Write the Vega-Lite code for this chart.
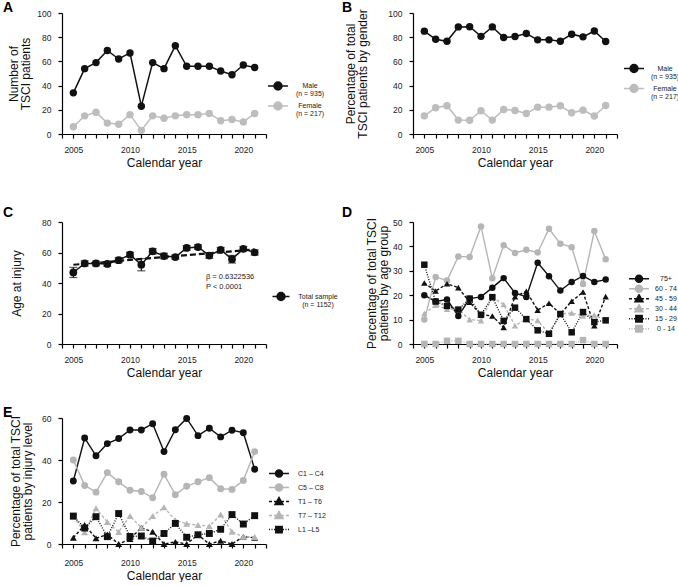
{
 "$schema": "https://vega.github.io/schema/vega-lite/v6.json",
 "padding": {"left": 3, "top": 0, "right": 0, "bottom": 0},
 "background": "white",
 "config": {
  "font": "Liberation Sans",
  "view": {"stroke": null},
  "axis": {"grid": false, "domainColor": "#000", "domainWidth": 1.2, "tickColor": "#000", "tickWidth": 1.2, "tickSize": 4, "labelFontSize": 8.5, "labelColor": "#222", "titleFontSize": 12, "titleFontWeight": "normal", "titleColor": "#111", "titleLineHeight": 12},
  "axisY": {"titlePadding": 4, "labelPadding": 7},
  "axisX": {"labelPadding": 7, "titlePadding": 4},
  "legend": {"labelFontSize": 7, "labelColor": "#1a1a1a", "labelFont": "Liberation Sans"},
  "title": {"fontSize": 14, "fontWeight": "bold", "color": "#000", "anchor": "start", "frame": "group", "font": "Liberation Sans"}
 },
 "datasets": {
  "sexn": [
   {"year": 2005, "Male": 34, "Female": 6},
   {"year": 2006, "Male": 54, "Female": 15},
   {"year": 2007, "Male": 59, "Female": 18},
   {"year": 2008, "Male": 69, "Female": 9},
   {"year": 2009, "Male": 62, "Female": 8},
   {"year": 2010, "Male": 67, "Female": 16},
   {"year": 2011, "Male": 23, "Female": 3},
   {"year": 2012, "Male": 59, "Female": 15},
   {"year": 2013, "Male": 54, "Female": 13},
   {"year": 2014, "Male": 73, "Female": 15},
   {"year": 2015, "Male": 56, "Female": 16},
   {"year": 2016, "Male": 56, "Female": 16},
   {"year": 2017, "Male": 56, "Female": 17},
   {"year": 2018, "Male": 52, "Female": 11},
   {"year": 2019, "Male": 49, "Female": 12},
   {"year": 2020, "Male": 57, "Female": 10},
   {"year": 2021, "Male": 55, "Female": 17}
  ],
  "sexpct": [
   {"year": 2005, "Male": 85.0, "Female": 15.0},
   {"year": 2006, "Male": 78.3, "Female": 21.7},
   {"year": 2007, "Male": 76.6, "Female": 23.4},
   {"year": 2008, "Male": 88.5, "Female": 11.5},
   {"year": 2009, "Male": 88.6, "Female": 11.4},
   {"year": 2010, "Male": 80.7, "Female": 19.3},
   {"year": 2011, "Male": 88.5, "Female": 11.5},
   {"year": 2012, "Male": 79.7, "Female": 20.3},
   {"year": 2013, "Male": 80.6, "Female": 19.4},
   {"year": 2014, "Male": 83.0, "Female": 17.0},
   {"year": 2015, "Male": 77.8, "Female": 22.2},
   {"year": 2016, "Male": 77.8, "Female": 22.2},
   {"year": 2017, "Male": 76.7, "Female": 23.3},
   {"year": 2018, "Male": 82.5, "Female": 17.5},
   {"year": 2019, "Male": 80.3, "Female": 19.7},
   {"year": 2020, "Male": 85.1, "Female": 14.9},
   {"year": 2021, "Male": 76.4, "Female": 23.6}
  ],
  "age": [
   {"year": 2005, "mean": 46.9, "lo": 43.6, "hi": 50.2},
   {"year": 2006, "mean": 52.8, "lo": 51.1, "hi": 54.5},
   {"year": 2007, "mean": 52.8, "lo": 51.3, "hi": 54.3},
   {"year": 2008, "mean": 52.5, "lo": 51.0, "hi": 54.0},
   {"year": 2009, "mean": 55.0, "lo": 53.3, "hi": 56.7},
   {"year": 2010, "mean": 58.6, "lo": 57.1, "hi": 60.1},
   {"year": 2011, "mean": 52.0, "lo": 48.0, "hi": 56.0},
   {"year": 2012, "mean": 60.8, "lo": 59.0, "hi": 62.6},
   {"year": 2013, "mean": 57.7, "lo": 55.9, "hi": 59.5},
   {"year": 2014, "mean": 57.0, "lo": 55.7, "hi": 58.3},
   {"year": 2015, "mean": 63.0, "lo": 61.5, "hi": 64.5},
   {"year": 2016, "mean": 63.6, "lo": 62.1, "hi": 65.1},
   {"year": 2017, "mean": 58.0, "lo": 56.2, "hi": 59.8},
   {"year": 2018, "mean": 61.8, "lo": 60.3, "hi": 63.3},
   {"year": 2019, "mean": 55.6, "lo": 53.1, "hi": 58.1},
   {"year": 2020, "mean": 62.4, "lo": 60.9, "hi": 63.9},
   {"year": 2021, "mean": 60.0, "lo": 58.3, "hi": 61.7}
  ],
  "fit": [
   {"year": 2005, "fit": 51.95},
   {"year": 2021, "fit": 62.07}
  ],
  "agegrp": [
   {"year": 2005, "75+": 20.0, "60 - 74": 10.0, "45 - 59": 25.0, "30 - 44": 12.5, "15 - 29": 32.5, "0 - 14": 0},
   {"year": 2006, "75+": 17.4, "60 - 74": 27.5, "45 - 59": 21.7, "30 - 44": 15.9, "15 - 29": 17.4, "0 - 14": 0},
   {"year": 2007, "75+": 18.2, "60 - 74": 26.0, "45 - 59": 24.7, "30 - 44": 14.3, "15 - 29": 15.6, "0 - 14": 1.3},
   {"year": 2008, "75+": 11.5, "60 - 74": 35.9, "45 - 59": 23.1, "30 - 44": 14.1, "15 - 29": 14.1, "0 - 14": 1.3},
   {"year": 2009, "75+": 18.6, "60 - 74": 35.7, "45 - 59": 17.1, "30 - 44": 10.0, "15 - 29": 18.6, "0 - 14": 0},
   {"year": 2010, "75+": 19.3, "60 - 74": 48.2, "45 - 59": 12.0, "30 - 44": 9.6, "15 - 29": 12.0, "0 - 14": 0},
   {"year": 2011, "75+": 23.1, "60 - 74": 26.9, "45 - 59": 11.5, "30 - 44": 19.2, "15 - 29": 19.2, "0 - 14": 0},
   {"year": 2012, "75+": 27.0, "60 - 74": 40.5, "45 - 59": 6.8, "30 - 44": 16.2, "15 - 29": 9.5, "0 - 14": 0},
   {"year": 2013, "75+": 20.9, "60 - 74": 37.3, "45 - 59": 19.4, "30 - 44": 7.5, "15 - 29": 14.9, "0 - 14": 0},
   {"year": 2014, "75+": 19.3, "60 - 74": 38.6, "45 - 59": 21.6, "30 - 44": 10.2, "15 - 29": 10.2, "0 - 14": 0},
   {"year": 2015, "75+": 33.3, "60 - 74": 37.5, "45 - 59": 13.9, "30 - 44": 9.7, "15 - 29": 5.6, "0 - 14": 0},
   {"year": 2016, "75+": 27.8, "60 - 74": 47.2, "45 - 59": 16.7, "30 - 44": 4.2, "15 - 29": 4.2, "0 - 14": 0},
   {"year": 2017, "75+": 21.9, "60 - 74": 41.1, "45 - 59": 12.3, "30 - 44": 12.3, "15 - 29": 12.3, "0 - 14": 0},
   {"year": 2018, "75+": 25.4, "60 - 74": 39.7, "45 - 59": 17.5, "30 - 44": 12.7, "15 - 29": 4.8, "0 - 14": 0},
   {"year": 2019, "75+": 27.9, "60 - 74": 24.6, "45 - 59": 21.3, "30 - 44": 11.5, "15 - 29": 13.1, "0 - 14": 1.6},
   {"year": 2020, "75+": 25.4, "60 - 74": 46.3, "45 - 59": 7.5, "30 - 44": 11.9, "15 - 29": 9.0, "0 - 14": 0},
   {"year": 2021, "75+": 26.4, "60 - 74": 34.7, "45 - 59": 19.4, "30 - 44": 9.7, "15 - 29": 9.7, "0 - 14": 0}
  ],
  "level": [
   {"year": 2005, "C1 – C4": 30.0, "C5 – C8": 40.0, "T1 – T6": 3.0, "T7 – T12": 13.0, "L1 –L5": 13.3},
   {"year": 2006, "C1 – C4": 50.5, "C5 – C8": 27.9, "T1 – T6": 9.1, "T7 – T12": 5.6, "L1 –L5": 7.6},
   {"year": 2007, "C1 – C4": 42.0, "C5 – C8": 24.7, "T1 – T6": 2.7, "T7 – T12": 17.0, "L1 –L5": 13.0},
   {"year": 2008, "C1 – C4": 47.8, "C5 – C8": 34.0, "T1 – T6": 4.5, "T7 – T12": 10.5, "L1 –L5": 3.5},
   {"year": 2009, "C1 – C4": 50.2, "C5 – C8": 29.6, "T1 – T6": 0, "T7 – T12": 5.7, "L1 –L5": 14.5},
   {"year": 2010, "C1 – C4": 54.3, "C5 – C8": 25.6, "T1 – T6": 2.4, "T7 – T12": 13.3, "L1 –L5": 3.6},
   {"year": 2011, "C1 – C4": 54.3, "C5 – C8": 25.0, "T1 – T6": 7.7, "T7 – T12": 7.7, "L1 –L5": 3.8},
   {"year": 2012, "C1 – C4": 57.3, "C5 – C8": 22.0, "T1 – T6": 5.8, "T7 – T12": 13.3, "L1 –L5": 1.4},
   {"year": 2013, "C1 – C4": 44.0, "C5 – C8": 33.2, "T1 – T6": 0, "T7 – T12": 17.5, "L1 –L5": 5.0},
   {"year": 2014, "C1 – C4": 54.4, "C5 – C8": 23.5, "T1 – T6": 1.0, "T7 – T12": 11.3, "L1 –L5": 9.8},
   {"year": 2015, "C1 – C4": 59.8, "C5 – C8": 27.5, "T1 – T6": 0, "T7 – T12": 9.6, "L1 –L5": 3.2},
   {"year": 2016, "C1 – C4": 51.6, "C5 – C8": 29.6, "T1 – T6": 4.4, "T7 – T12": 9.0, "L1 –L5": 4.4},
   {"year": 2017, "C1 – C4": 55.1, "C5 – C8": 31.6, "T1 – T6": 0, "T7 – T12": 8.4, "L1 –L5": 5.0},
   {"year": 2018, "C1 – C4": 51.0, "C5 – C8": 26.3, "T1 – T6": 1.5, "T7 – T12": 14.0, "L1 –L5": 7.0},
   {"year": 2019, "C1 – C4": 54.2, "C5 – C8": 26.0, "T1 – T6": 0, "T7 – T12": 5.8, "L1 –L5": 14.0},
   {"year": 2020, "C1 – C4": 53.0, "C5 – C8": 30.2, "T1 – T6": 3.5, "T7 – T12": 3.5, "L1 –L5": 9.5},
   {"year": 2021, "C1 – C4": 35.6, "C5 – C8": 44.0, "T1 – T6": 3.0, "T7 – T12": 3.3, "L1 –L5": 13.5}
  ],
  "note": [
   {"text": "β = 0.6322536"}
  ]
 },
 "spacing": 27,
 "resolve": {"scale": {"color": "independent"}, "legend": {"color": "independent"}},
 "vconcat": [
  {
   "columns": 2,
   "bounds": "flush",
   "spacing": {"row": 88, "column": 147},
   "resolve": {"scale": {"color": "independent"}, "legend": {"color": "independent"}},
   "concat": [
    {
     "width": 204, "height": 121,
     "title": {"text": "A", "dx": -59, "offset": -6},
     "data": {"name": "sexn"},
     "transform": [{"fold": ["Male", "Female"], "as": ["sex", "n"]}],
     "encoding": {
      "x": {"field": "year", "type": "quantitative", "scale": {"domain": [2004, 2022], "nice": false, "zero": false}, "axis": {"title": "Calendar year", "values": [2004, 2005, 2006, 2007, 2008, 2009, 2010, 2011, 2012, 2013, 2014, 2015, 2016, 2017, 2018, 2019, 2020, 2021, 2022], "labelExpr": "datum.value % 5 === 0 ? '' + datum.value : ''", "labelOverlap": false, "labelFlush": false}},
      "y": {"field": "n", "type": "quantitative", "scale": {"domain": [0, 100]}, "axis": {"title": ["Number of", "TSCI patients"], "values": [0, 20, 40, 60, 80, 100]}},
      "color": {"field": "sex", "type": "nominal", "scale": {"domain": ["Male", "Female"], "range": ["#111111", "#bdbdbd"]},
       "legend": {"title": null, "orient": "none", "legendX": 205, "legendY": 64, "symbolType": "M-1,0H1M-0.4,0A0.4,0.4,0,1,1,0.4,0A0.4,0.4,0,1,1,-0.4,0Z", "symbolSize": 400, "symbolStrokeWidth": 1.5, "clipHeight": 18, "rowPadding": 0, "padding": 0, "labelAlign": "center", "labelOffset": 21, "labelColor": "#1a1a1a", "labelExpr": "datum.value === 'Male' ? ['Male', '(n = 935)'] : ['Female', '(n = 217)']",
        "encode": {"labels": {"update": {"lineHeight": {"value": 8}}}, "symbols": {"update": {"fill": {"signal": "datum.value === 'Male' ? '#111111' : '#bdbdbd'"}, "stroke": {"signal": "datum.value === 'Male' ? '#111111' : '#bdbdbd'"}, "opacity": {"value": 1}}}}}}
     },
     "layer": [
      {"mark": {"type": "line", "strokeWidth": 1.5}},
      {"mark": {"type": "point", "shape": "circle", "filled": true, "opacity": 1, "size": 55}}
     ]
    },
    {
     "width": 204, "height": 121,
     "title": {"text": "B", "dx": -71, "offset": -6},
     "data": {"name": "sexpct"},
     "transform": [{"fold": ["Male", "Female"], "as": ["sex", "pct"]}],
     "encoding": {
      "x": {"field": "year", "type": "quantitative", "scale": {"domain": [2004, 2022], "nice": false, "zero": false}, "axis": {"title": "Calendar year", "values": [2004, 2005, 2006, 2007, 2008, 2009, 2010, 2011, 2012, 2013, 2014, 2015, 2016, 2017, 2018, 2019, 2020, 2021, 2022], "labelExpr": "datum.value % 5 === 0 ? '' + datum.value : ''", "labelOverlap": false, "labelFlush": false}},
      "y": {"field": "pct", "type": "quantitative", "scale": {"domain": [0, 100]}, "axis": {"title": ["Percentage of total", "TSCI patients by gender"], "values": [0, 20, 40, 60, 80, 100], "titlePadding": 18}},
      "color": {"field": "sex", "type": "nominal", "scale": {"domain": ["Male", "Female"], "range": ["#111111", "#bdbdbd"]},
       "legend": {"title": null, "orient": "none", "legendX": 210, "legendY": 47, "symbolType": "M-1,0H1M-0.4,0A0.4,0.4,0,1,1,0.4,0A0.4,0.4,0,1,1,-0.4,0Z", "symbolSize": 400, "symbolStrokeWidth": 1.5, "clipHeight": 17, "rowPadding": 0, "padding": 0, "labelAlign": "center", "labelOffset": 20, "labelColor": "#1a1a1a", "labelExpr": "datum.value === 'Male' ? ['Male', '(n = 935)'] : ['Female', '(n = 217)']",
        "encode": {"labels": {"update": {"lineHeight": {"value": 8}}}, "symbols": {"update": {"fill": {"signal": "datum.value === 'Male' ? '#111111' : '#bdbdbd'"}, "stroke": {"signal": "datum.value === 'Male' ? '#111111' : '#bdbdbd'"}, "opacity": {"value": 1}}}}}}
     },
     "layer": [
      {"mark": {"type": "line", "strokeWidth": 1.5}},
      {"mark": {"type": "point", "shape": "circle", "filled": true, "opacity": 1, "size": 55}}
     ]
    },
    {
     "width": 204, "height": 122,
     "title": {"text": "C", "dx": -59, "offset": -2},
     "data": {"name": "age"},
     "layer": [
      {"mark": {"type": "errorbar", "ticks": true, "size": 8, "thickness": 1.2, "color": "#111111"},
       "encoding": {
        "x": {"field": "year", "type": "quantitative", "scale": {"domain": [2004, 2022], "nice": false, "zero": false}, "axis": {"title": "Calendar year", "values": [2004, 2005, 2006, 2007, 2008, 2009, 2010, 2011, 2012, 2013, 2014, 2015, 2016, 2017, 2018, 2019, 2020, 2021, 2022], "labelExpr": "datum.value % 5 === 0 ? '' + datum.value : ''", "labelOverlap": false, "labelFlush": false}},
        "y": {"field": "lo", "type": "quantitative", "scale": {"domain": [0, 80]}, "axis": {"title": "Age at injury", "values": [0, 20, 40, 60, 80], "titlePadding": 18, "labelOverlap": false}},
        "y2": {"field": "hi"}}},
      {"mark": {"type": "line", "strokeWidth": 1.5},
       "encoding": {
        "x": {"field": "year", "type": "quantitative", "scale": {"domain": [2004, 2022], "nice": false, "zero": false}, "axis": {"title": "Calendar year", "values": [2004, 2005, 2006, 2007, 2008, 2009, 2010, 2011, 2012, 2013, 2014, 2015, 2016, 2017, 2018, 2019, 2020, 2021, 2022], "labelExpr": "datum.value % 5 === 0 ? '' + datum.value : ''", "labelOverlap": false, "labelFlush": false}},
        "y": {"field": "mean", "type": "quantitative", "scale": {"domain": [0, 80]}, "axis": {"title": "Age at injury", "values": [0, 20, 40, 60, 80], "titlePadding": 18, "labelOverlap": false}},
        "color": {"datum": "Total sample", "type": "nominal", "scale": {"domain": ["Total sample"], "range": ["#111111"]},
        "legend": {"title": null, "orient": "none", "legendX": 208, "legendY": 66, "symbolType": "M-0.85,0H0.85M-0.4,0A0.4,0.4,0,1,1,0.4,0A0.4,0.4,0,1,1,-0.4,0Z", "symbolSize": 400, "symbolStrokeWidth": 1.5, "clipHeight": 17, "rowPadding": 0, "padding": 0, "labelAlign": "center", "labelOffset": 26, "labelColor": "#1a1a1a", "labelExpr": "['Total sample', '(n = 1152)']",
         "encode": {"labels": {"update": {"lineHeight": {"value": 8}}}, "symbols": {"update": {"fill": {"value": "#111111"}, "stroke": {"value": "#111111"}, "opacity": {"value": 1}}}}}}}},
      {"mark": {"type": "point", "shape": "circle", "filled": true, "opacity": 1, "size": 60},
       "encoding": {
        "x": {"field": "year", "type": "quantitative", "scale": {"domain": [2004, 2022], "nice": false, "zero": false}, "axis": {"title": "Calendar year", "values": [2004, 2005, 2006, 2007, 2008, 2009, 2010, 2011, 2012, 2013, 2014, 2015, 2016, 2017, 2018, 2019, 2020, 2021, 2022], "labelExpr": "datum.value % 5 === 0 ? '' + datum.value : ''", "labelOverlap": false, "labelFlush": false}},
        "y": {"field": "mean", "type": "quantitative", "scale": {"domain": [0, 80]}, "axis": {"title": "Age at injury", "values": [0, 20, 40, 60, 80], "titlePadding": 18, "labelOverlap": false}},
        "color": {"datum": "Total sample", "type": "nominal"}}},
      {"data": {"name": "fit"}, "mark": {"type": "line", "strokeDash": [6, 3], "strokeWidth": 2.2, "color": "#111111"},
       "encoding": {
        "x": {"field": "year", "type": "quantitative", "scale": {"domain": [2004, 2022], "nice": false, "zero": false}, "axis": {"title": "Calendar year", "values": [2004, 2005, 2006, 2007, 2008, 2009, 2010, 2011, 2012, 2013, 2014, 2015, 2016, 2017, 2018, 2019, 2020, 2021, 2022], "labelExpr": "datum.value % 5 === 0 ? '' + datum.value : ''", "labelOverlap": false, "labelFlush": false}},
        "y": {"field": "fit", "type": "quantitative", "scale": {"domain": [0, 80]}, "axis": {"title": "Age at injury", "values": [0, 20, 40, 60, 80], "titlePadding": 18, "labelOverlap": false}}}},
      {"data": {"name": "note"}, "mark": {"type": "text", "align": "left", "baseline": "top", "fontSize": 7.5, "lineHeight": 10, "color": "#222222"},
       "encoding": {
        "x": {"datum": 2016.7, "type": "quantitative", "scale": {"domain": [2004, 2022], "nice": false, "zero": false}, "axis": {"title": "Calendar year", "values": [2004, 2005, 2006, 2007, 2008, 2009, 2010, 2011, 2012, 2013, 2014, 2015, 2016, 2017, 2018, 2019, 2020, 2021, 2022], "labelExpr": "datum.value % 5 === 0 ? '' + datum.value : ''", "labelOverlap": false, "labelFlush": false}},
        "y": {"datum": 46.5, "type": "quantitative", "scale": {"domain": [0, 80]}, "axis": {"title": "Age at injury", "values": [0, 20, 40, 60, 80], "titlePadding": 18, "labelOverlap": false}},
        "text": {"value": ["β = 0.6322536", "P < 0.0001"]}}}
     ]
    },
    {
     "width": 204, "height": 122,
     "title": {"text": "D", "dx": -71, "offset": -3},
     "data": {"name": "agegrp"},
     "transform": [{"fold": ["75+", "60 - 74", "45 - 59", "30 - 44", "15 - 29", "0 - 14"], "as": ["grp", "pct"]}],
     "encoding": {
      "x": {"field": "year", "type": "quantitative", "scale": {"domain": [2004, 2022], "nice": false, "zero": false}, "axis": {"title": "Calendar year", "values": [2004, 2005, 2006, 2007, 2008, 2009, 2010, 2011, 2012, 2013, 2014, 2015, 2016, 2017, 2018, 2019, 2020, 2021, 2022], "labelExpr": "datum.value % 5 === 0 ? '' + datum.value : ''", "labelOverlap": false, "labelFlush": false}},
      "y": {"field": "pct", "type": "quantitative", "scale": {"domain": [0, 50]}, "axis": {"title": ["Percentage of total TSCI", "patients by age group"], "values": [0, 10, 20, 30, 40, 50], "titlePadding": 2}},
      "color": {"field": "grp", "type": "nominal", "scale": {"domain": ["75+", "60 - 74", "45 - 59", "30 - 44", "15 - 29", "0 - 14"], "range": ["#111111", "#b5b5b5", "#111111", "#b5b5b5", "#111111", "#b5b5b5"]},
       "legend": {"title": null, "orient": "none", "legendX": 215, "legendY": 52, "symbolType": "M-1,0H1M-0.35,0A0.35,0.35,0,1,1,0.35,0A0.35,0.35,0,1,1,-0.35,0Z", "symbolSize": 400, "symbolStrokeWidth": 1.5, "clipHeight": 9.4, "rowPadding": 0, "padding": 0, "labelAlign": "center", "labelOffset": 16, "labelColor": "#1a1a1a",
        "encode": {"symbols": {"update": {
         "shape": {"signal": "indexof(['75+','60 - 74'], datum.value) >= 0 ? 'M-1,0H1M-0.35,0A0.35,0.35,0,1,1,0.35,0A0.35,0.35,0,1,1,-0.35,0Z' : indexof(['45 - 59','30 - 44'], datum.value) >= 0 ? 'M-1,0H-0.7M-0.5,0H-0.2M0.2,0H0.5M0.7,0H1M0,-0.4L0.4,0.3L-0.4,0.3Z' : 'M-1,0H-0.9M-0.75,0H-0.65M-0.5,0H-0.4M0.4,0H0.5M0.65,0H0.75M0.9,0H1M-0.32,-0.32H0.32V0.32H-0.32Z'"},
         "fill": {"signal": "indexof(['75+','45 - 59','15 - 29'], datum.value) >= 0 ? '#111111' : '#b5b5b5'"},
         "stroke": {"signal": "indexof(['75+','45 - 59','15 - 29'], datum.value) >= 0 ? '#111111' : '#b5b5b5'"},
         "opacity": {"value": 1}}}}}}
     },
     "layer": [
      {"transform": [{"filter": {"field": "grp", "oneOf": ["75+", "60 - 74"]}}], "mark": {"type": "line", "strokeWidth": 1.4}},
      {"transform": [{"filter": {"field": "grp", "oneOf": ["45 - 59", "30 - 44"]}}], "mark": {"type": "line", "strokeWidth": 1.4, "strokeDash": [3, 2]}},
      {"transform": [{"filter": {"field": "grp", "oneOf": ["15 - 29", "0 - 14"]}}], "mark": {"type": "line", "strokeWidth": 1.4, "strokeDash": [1, 1.5]}},
      {"transform": [{"filter": {"field": "grp", "oneOf": ["75+", "60 - 74"]}}], "mark": {"type": "point", "shape": "circle", "filled": true, "opacity": 1, "size": 42}},
      {"transform": [{"filter": {"field": "grp", "oneOf": ["45 - 59", "30 - 44"]}}], "mark": {"type": "point", "shape": "triangle-up", "filled": true, "opacity": 1, "size": 42}},
      {"transform": [{"filter": {"field": "grp", "oneOf": ["15 - 29", "0 - 14"]}}], "mark": {"type": "point", "shape": "square", "filled": true, "opacity": 1, "size": 42}}
     ]
    }
   ]
  },
  {
   "width": 204, "height": 126,
   "title": {"text": "E", "dx": -59, "offset": -6},
   "data": {"name": "level"},
   "transform": [{"fold": ["C1 – C4", "C5 – C8", "T1 – T6", "T7 – T12", "L1 –L5"], "as": ["lvl", "pct"]}],
   "encoding": {
    "x": {"field": "year", "type": "quantitative", "scale": {"domain": [2004, 2022], "nice": false, "zero": false}, "axis": {"title": "Calendar year", "values": [2004, 2005, 2006, 2007, 2008, 2009, 2010, 2011, 2012, 2013, 2014, 2015, 2016, 2017, 2018, 2019, 2020, 2021, 2022], "labelExpr": "datum.value % 5 === 0 ? '' + datum.value : ''", "labelOverlap": false, "labelFlush": false, "labelPadding": 10}},
    "y": {"field": "pct", "type": "quantitative", "scale": {"domain": [0, 60]}, "axis": {"title": ["Percentage of total TSCI", "patients by injury level"], "values": [0, 20, 40, 60], "titlePadding": 7}},
    "color": {"field": "lvl", "type": "nominal", "scale": {"domain": ["C1 – C4", "C5 – C8", "T1 – T6", "T7 – T12", "L1 –L5"], "range": ["#111111", "#b5b5b5", "#111111", "#b5b5b5", "#111111"]},
     "legend": {"title": null, "orient": "none", "legendX": 206, "legendY": 49, "symbolType": "M-1,0H1M-0.35,0A0.35,0.35,0,1,1,0.35,0A0.35,0.35,0,1,1,-0.35,0Z", "symbolSize": 400, "symbolStrokeWidth": 1.5, "clipHeight": 13.2, "rowPadding": 0, "padding": 0, "labelAlign": "left", "labelOffset": 8, "labelColor": "#1a1a1a",
      "encode": {"symbols": {"update": {
       "shape": {"signal": "indexof(['C1 – C4','C5 – C8'], datum.value) >= 0 ? 'M-1,0H1M-0.35,0A0.35,0.35,0,1,1,0.35,0A0.35,0.35,0,1,1,-0.35,0Z' : indexof(['T1 – T6','T7 – T12'], datum.value) >= 0 ? 'M-1,0H-0.7M-0.5,0H-0.2M0.2,0H0.5M0.7,0H1M0,-0.4L0.4,0.3L-0.4,0.3Z' : 'M-1,0H-0.9M-0.75,0H-0.65M-0.5,0H-0.4M0.4,0H0.5M0.65,0H0.75M0.9,0H1M-0.32,-0.32H0.32V0.32H-0.32Z'"},
       "fill": {"signal": "indexof(['C1 – C4','T1 – T6','L1 –L5'], datum.value) >= 0 ? '#111111' : '#b5b5b5'"},
       "stroke": {"signal": "indexof(['C1 – C4','T1 – T6','L1 –L5'], datum.value) >= 0 ? '#111111' : '#b5b5b5'"},
       "opacity": {"value": 1}}}}}}
   },
   "layer": [
    {"transform": [{"filter": {"field": "lvl", "oneOf": ["C1 – C4", "C5 – C8"]}}], "mark": {"type": "line", "strokeWidth": 1.4}},
    {"transform": [{"filter": {"field": "lvl", "oneOf": ["T1 – T6", "T7 – T12"]}}], "mark": {"type": "line", "strokeWidth": 1.4, "strokeDash": [3, 2]}},
    {"transform": [{"filter": {"field": "lvl", "oneOf": ["L1 –L5"]}}], "mark": {"type": "line", "strokeWidth": 1.4, "strokeDash": [1, 1.5]}},
    {"transform": [{"filter": {"field": "lvl", "oneOf": ["C1 – C4", "C5 – C8"]}}], "mark": {"type": "point", "shape": "circle", "filled": true, "opacity": 1, "size": 48}},
    {"transform": [{"filter": {"field": "lvl", "oneOf": ["T1 – T6", "T7 – T12"]}}], "mark": {"type": "point", "shape": "triangle-up", "filled": true, "opacity": 1, "size": 48}},
    {"transform": [{"filter": {"field": "lvl", "oneOf": ["L1 –L5"]}}], "mark": {"type": "point", "shape": "square", "filled": true, "opacity": 1, "size": 48}}
   ]
  }
 ]
}
